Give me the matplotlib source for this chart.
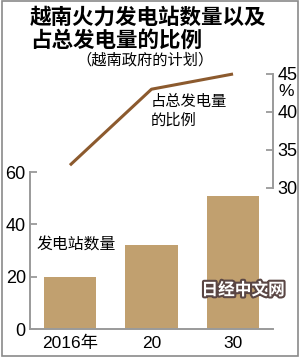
import matplotlib
matplotlib.use("Agg")
import matplotlib.pyplot as plt
import matplotlib.patheffects as pe
from matplotlib import font_manager
from matplotlib.patches import Rectangle

# data
years = ["2016年", "20", "30"]
plant_counts = [20, 32, 51]          # number of thermal power plants (left axis)
share_pct = [33, 43, 45]             # share of total generation, % (right axis)
left_ticks = [0, 20, 40, 60]
right_ticks = [30, 35, 40, 45]

title = "越南火力发电站数量以及\n占总发电量的比例"
subtitle = "（越南政府的计划）"
bar_label = "发电站数量"
line_label = "占总发电量\n的比例"

CJK = "Noto Sans CJK SC"
_names = {f.name for f in font_manager.fontManager.ttflist}
NUM = "Liberation Sans Narrow" if "Liberation Sans Narrow" in _names else "Liberation Sans"
plt.rcParams["font.family"] = [CJK, "DejaVu Sans"]

BAR_C = "#C1A06F"
LINE_C = "#8C5A2E"
AXIS_C = "#9A9A9A"

W, H = 300, 358
fig = plt.figure(figsize=(W / 100, H / 100), dpi=100)


def box(x0, x1, ytop, ybot):
    """pixel box -> figure fraction rect"""
    return [x0 / W, (H - ybot) / H, (x1 - x0) / W, (ybot - ytop) / H]


# bars: left axis
ax = fig.add_axes(box(30, 273, 172, 329))
x = list(range(len(years)))
ax.bar(x, plant_counts, width=0.64, color=BAR_C, zorder=2)
ax.set_xlim(-0.49, 2.49)
ax.set_ylim(0, 60)
ax.set_yticks(left_ticks)
ax.set_xticks(x)
ax.set_xticklabels(years, fontsize=12.5, family=[NUM, CJK])
for t in ax.get_yticklabels():
    t.set_fontsize(13)
    t.set_family([NUM, CJK])
ax.tick_params(axis="y", direction="in", length=5, width=1.3, color=AXIS_C, pad=3)
ax.tick_params(axis="x", length=0, pad=5)
for s in ("top", "right"):
    ax.spines[s].set_visible(False)
for s in ("left", "bottom"):
    ax.spines[s].set_color(AXIS_C)
    ax.spines[s].set_linewidth(1.4)
ax.patch.set_alpha(0)

# line: right axis, its own box so it can rise above the bars panel
ax2 = fig.add_axes(box(30, 273, 74, 188))
ax2.plot(x, share_pct, color=LINE_C, lw=2.2, solid_capstyle="butt", clip_on=False)
ax2.set_xlim(-0.49, 2.49)
ax2.set_ylim(30, 45)
ax2.set_yticks(right_ticks)
ax2.yaxis.tick_right()
ax2.set_xticks([])
for t in ax2.get_yticklabels():
    t.set_fontsize(13)
    t.set_family([NUM, CJK])
ax2.tick_params(axis="y", direction="in", length=5, width=1.3, color=AXIS_C, pad=3)
for s in ("top", "left", "bottom"):
    ax2.spines[s].set_visible(False)
ax2.spines["right"].set_color(AXIS_C)
ax2.spines["right"].set_linewidth(1.4)
ax2.patch.set_alpha(0)

# texts
fig.text(30 / W, 1 - 7 / H, title, ha="left", va="top", fontsize=15.5,
         fontweight="bold", linespacing=1.12, family=CJK)
fig.text(145 / W, 1 - 60 / H, subtitle, ha="center", va="center", fontsize=11, family=CJK)
fig.text(151 / W, 1 - 111 / H, line_label, ha="left", va="center", fontsize=11,
         linespacing=1.1, family=CJK)
fig.text(37 / W, 1 - 245 / H, bar_label, ha="left", va="center", fontsize=11.4, family=CJK)
fig.text(286 / W, 1 - 91 / H, "%", ha="center", va="center", fontsize=12.5, family=NUM)

# watermark
fig.text(243 / W, 1 - 290 / H, "日经中文网", ha="center", va="center", fontsize=12,
         fontweight="bold", color="white", family=CJK,
         path_effects=[pe.withStroke(linewidth=3, foreground="#5A4644")])

# frame around the graphic
fig.patches.append(Rectangle((1.5 / W, 1 - 355.5 / H), 296 / W, 355 / H,
                             transform=fig.transFigure, fill=False,
                             edgecolor="#8A8A8A", lw=1.2))

fig.savefig("out.png", dpi=100)
